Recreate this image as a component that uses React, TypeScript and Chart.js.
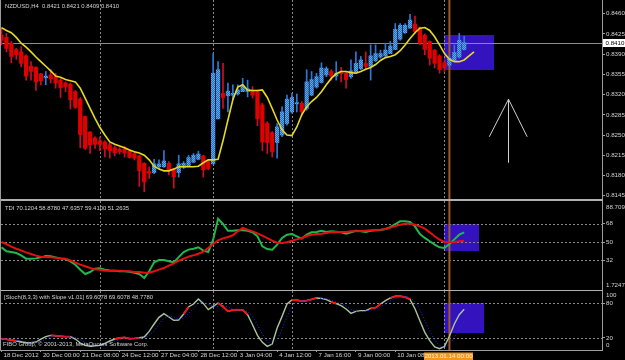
import { useEffect, useRef } from 'react';
import { Chart, registerables } from 'chart.js';

Chart.register(...registerables);

// ---------------- data ----------------
const opens = [
  0.8423, 0.8419, 0.8409, 0.8398, 0.8394, 0.8387, 0.8369, 0.8367, 0.8356, 0.8349,
  0.8354, 0.8351, 0.8345, 0.8340, 0.8338, 0.8325, 0.8312, 0.8282, 0.8255, 0.8245,
  0.8240, 0.8238, 0.8233, 0.8228, 0.8225, 0.8226, 0.8222, 0.8218, 0.8214, 0.8201,
  0.8187, 0.8185, 0.8195, 0.8195, 0.8201, 0.8191, 0.8185, 0.8194, 0.8196, 0.8203,
  0.8208, 0.8214, 0.8204, 0.8200, 0.8278, 0.8322, 0.8318, 0.8319, 0.8321, 0.8325,
  0.8325, 0.8328, 0.8325, 0.8302, 0.8270, 0.8254, 0.8237, 0.8250, 0.8270, 0.8290,
  0.8304, 0.8305, 0.8296, 0.8319, 0.8333, 0.8341, 0.8354, 0.8360, 0.8352, 0.8360,
  0.8357, 0.8351, 0.8358, 0.8365, 0.8374, 0.8369, 0.8379, 0.8385, 0.8387, 0.8391,
  0.8398, 0.8416, 0.8427, 0.8435, 0.8442, 0.8436, 0.8423, 0.8412, 0.8397, 0.8387,
  0.8375, 0.8371, 0.8379, 0.8385, 0.8398,
];
const highs = [
  0.8435, 0.8426, 0.8412, 0.8400, 0.8403, 0.8389, 0.8377, 0.8368, 0.8357, 0.8360,
  0.8363, 0.8357, 0.8348, 0.8342, 0.8340, 0.8327, 0.8315, 0.8283, 0.8256, 0.8247,
  0.8247, 0.8240, 0.8236, 0.8231, 0.8228, 0.8230, 0.8225, 0.8221, 0.8215, 0.8202,
  0.8195, 0.8208, 0.8207, 0.8223, 0.8204, 0.8192, 0.8215, 0.8204, 0.8215, 0.8218,
  0.8222, 0.8215, 0.8207, 0.8391, 0.8377, 0.8374, 0.8340, 0.8337, 0.8337, 0.8348,
  0.8345, 0.8334, 0.8328, 0.8305, 0.8273, 0.8256, 0.8270, 0.8299, 0.8319, 0.8322,
  0.8321, 0.8308, 0.8363, 0.8360, 0.8357, 0.8375, 0.8368, 0.8363, 0.8377, 0.8367,
  0.8360, 0.8380, 0.8394, 0.8386, 0.8394, 0.8406, 0.8406, 0.8397, 0.8409, 0.8412,
  0.8443, 0.8443, 0.8443, 0.8459, 0.8456, 0.8437, 0.8425, 0.8413, 0.8398, 0.8389,
  0.8380, 0.8386, 0.8406, 0.8426, 0.8421,
];
const lows = [
  0.8406, 0.8394, 0.8375, 0.8381, 0.8368, 0.8345, 0.8345, 0.8327, 0.8337, 0.8337,
  0.8340, 0.8331, 0.8315, 0.8325, 0.8295, 0.8296, 0.8228, 0.8225, 0.8218, 0.8227,
  0.8223, 0.8212, 0.8210, 0.8214, 0.8217, 0.8212, 0.8210, 0.8207, 0.8161, 0.8152,
  0.8175, 0.8183, 0.8192, 0.8194, 0.8181, 0.8158, 0.8177, 0.8192, 0.8195, 0.8202,
  0.8207, 0.8177, 0.8190, 0.8200, 0.8278, 0.8296, 0.8290, 0.8311, 0.8319, 0.8325,
  0.8316, 0.8314, 0.8266, 0.8223, 0.8218, 0.8212, 0.8210, 0.8247, 0.8267, 0.8288,
  0.8290, 0.8283, 0.8293, 0.8318, 0.8331, 0.8340, 0.8351, 0.8345, 0.8345, 0.8342,
  0.8331, 0.8348, 0.8357, 0.8363, 0.8363, 0.8345, 0.8377, 0.8383, 0.8386, 0.8391,
  0.8398, 0.8414, 0.8426, 0.8435, 0.8426, 0.8406, 0.8389, 0.8371, 0.8366, 0.8357,
  0.8360, 0.8369, 0.8377, 0.8383, 0.8397,
];
const closes = [
  0.8414, 0.8400, 0.8386, 0.8389, 0.8374, 0.8352, 0.8360, 0.8342, 0.8344, 0.8352,
  0.8347, 0.8340, 0.8332, 0.8334, 0.8311, 0.8298, 0.8251, 0.8227, 0.8233, 0.8234,
  0.8234, 0.8226, 0.8223, 0.8219, 0.8221, 0.8219, 0.8211, 0.8210, 0.8188, 0.8169,
  0.8184, 0.8200, 0.8200, 0.8205, 0.8190, 0.8178, 0.8200, 0.8201, 0.8211, 0.8215,
  0.8217, 0.8190, 0.8192, 0.8357, 0.8363, 0.8315, 0.8326, 0.8322, 0.8328, 0.8335,
  0.8330, 0.8319, 0.8278, 0.8238, 0.8237, 0.8221, 0.8264, 0.8290, 0.8312, 0.8315,
  0.8306, 0.8290, 0.8342, 0.8346, 0.8351, 0.8366, 0.8365, 0.8352, 0.8357, 0.8356,
  0.8346, 0.8361, 0.8374, 0.8380, 0.8369, 0.8387, 0.8391, 0.8391, 0.8397, 0.8404,
  0.8433, 0.8440, 0.8440, 0.8449, 0.8429, 0.8409, 0.8398, 0.8383, 0.8374, 0.8363,
  0.8366, 0.8383, 0.8393, 0.8414, 0.8410,
];
const maLine = [
  0.8436, 0.8431, 0.8427, 0.8419, 0.8409, 0.8402, 0.8394, 0.8385, 0.8377, 0.8369,
  0.8361, 0.8352, 0.8350, 0.8346, 0.8344, 0.8342, 0.8331, 0.8314, 0.8296, 0.8279,
  0.8263, 0.8250, 0.8238, 0.8234, 0.8231, 0.8228, 0.8224, 0.8221, 0.8219, 0.8215,
  0.8207, 0.8196, 0.8191, 0.8188, 0.8188, 0.8191, 0.8195, 0.8195, 0.8195, 0.8195,
  0.8196, 0.8202, 0.8207, 0.8207, 0.8208, 0.8240, 0.8276, 0.8311, 0.8333, 0.8337,
  0.8328, 0.8327, 0.8327, 0.8328, 0.8315, 0.8296, 0.8276, 0.8259, 0.8250, 0.8249,
  0.8264, 0.8285, 0.8299, 0.8308, 0.8315, 0.8325, 0.8337, 0.8348, 0.8356, 0.8360,
  0.8360, 0.8358, 0.8357, 0.8360, 0.8364, 0.8367, 0.8372, 0.8379, 0.8384, 0.8386,
  0.8389, 0.8396, 0.8406, 0.8417, 0.8427, 0.8435, 0.8436, 0.8431, 0.8420, 0.8406,
  0.8391, 0.8381, 0.8377, 0.8377, 0.8380, 0.8387, 0.8394,
];
const tdiPrice = [
  44.8, 40.8, 40.2, 39.2, 36.9, 33.6, 33.6, 33.9, 34.9, 36.2,
  35.9, 34.9, 33.9, 33.3, 31.0, 27.7, 22.8, 18.5, 20.5, 23.8,
  24.1, 22.8, 22.1, 21.8, 21.2, 21.2, 20.8, 19.8, 18.5, 14.6,
  21.2, 30.0, 32.3, 32.3, 31.0, 30.0, 35.2, 40.2, 42.5, 43.4,
  44.8, 41.5, 40.2, 52.3, 72.9, 67.7, 61.1, 61.1, 61.5, 61.5,
  61.1, 59.5, 55.6, 45.7, 43.1, 42.5, 47.4, 54.0, 57.2, 57.9,
  55.6, 53.3, 57.2, 59.5, 59.8, 61.1, 59.8, 60.5, 60.2, 59.5,
  58.2, 59.5, 61.1, 60.5, 59.8, 61.1, 61.5, 61.8, 62.8, 64.7,
  67.7, 70.3, 70.3, 69.7, 65.4, 57.9, 54.0, 50.7, 47.4, 44.8,
  44.1, 48.0, 52.6, 57.2, 59.4,
];
const tdiSignal = [
  50.0, 48.0, 45.4, 43.4, 41.8, 39.8, 38.2, 36.6, 35.6, 35.2,
  34.9, 34.6, 33.9, 33.6, 32.0, 29.7, 27.7, 26.1, 24.4, 23.1,
  22.8, 21.8, 21.8, 21.8, 21.8, 21.5, 21.2, 20.5, 20.5, 19.8,
  19.8, 21.2, 22.8, 24.4, 26.7, 29.0, 31.6, 33.6, 35.6, 36.9,
  38.5, 40.5, 44.1, 48.0, 51.6, 53.6, 54.9, 56.6, 60.5, 63.8,
  62.1, 60.5, 58.5, 56.2, 53.9, 51.3, 49.3, 49.0, 49.7, 51.3,
  52.6, 53.9, 55.9, 57.2, 57.9, 58.2, 58.9, 59.5, 59.8, 59.8,
  59.8, 60.5, 60.5, 60.8, 61.1, 61.5, 61.8, 62.1, 62.8, 64.1,
  65.7, 67.0, 68.0, 68.0, 67.0, 65.4, 63.1, 59.5, 55.6, 52.3,
  50.0, 49.7, 50.0, 50.7, 51.3,
];
const stochMain = [
  18.8, 17.7, 16.5, 14.8, 13.6, 11.9, 11.9, 13.1, 18.2, 22.3,
  24.6, 24.0, 22.9, 22.3, 22.3, 18.2, 11.3, 7.3, 5.5, 6.7,
  7.3, 10.7, 14.8, 18.2, 20.0, 21.1, 18.8, 19.4, 20.5, 21.7,
  31.5, 44.2, 55.7, 62.1, 56.3, 50.5, 51.1, 61.5, 73.6, 78.8,
  87.4, 79.9, 69.0, 74.8, 80.5, 74.2, 66.1, 68.4, 69.0, 68.4,
  60.3, 43.0, 24.6, 12.5, 5.5, 9.6, 37.3, 57.4, 78.8, 85.7,
  85.7, 83.4, 84.6, 86.9, 89.2, 88.6, 86.3, 82.3, 79.4, 75.9,
  70.1, 62.6, 66.1, 67.3, 67.3, 71.3, 72.4, 78.8, 84.6, 89.2,
  92.1, 92.1, 90.9, 86.9, 70.7, 49.9, 29.8, 15.3, 4.4, 1.5,
  5.5, 22.9, 44.2, 60.3, 69.6,
];
const stochSignal = [
  19.0, 18.5, 17.7, 16.3, 15.0, 13.4, 12.5, 12.3, 14.4, 17.9,
  21.7, 23.6, 23.8, 23.1, 22.5, 20.9, 17.3, 12.3, 8.0, 6.5,
  6.5, 8.2, 10.9, 14.6, 17.7, 19.8, 20.0, 19.8, 19.6, 20.5,
  24.6, 32.5, 43.8, 54.0, 58.0, 56.3, 52.6, 54.4, 62.1, 71.3,
  79.9, 82.0, 78.8, 74.6, 74.8, 76.5, 73.6, 69.6, 67.8, 68.6,
  65.9, 57.2, 42.6, 26.7, 14.2, 9.2, 17.5, 34.8, 57.8, 74.0,
  83.4, 84.9, 84.6, 85.0, 86.9, 88.2, 88.0, 85.7, 82.7, 79.2,
  75.1, 69.5, 66.3, 65.3, 66.9, 68.6, 70.3, 74.2, 78.6, 84.2,
  88.6, 91.1, 91.7, 90.0, 82.8, 69.2, 50.1, 31.7, 16.5, 7.1,
  3.8, 9.9, 20.0, 36.0, 48.8,
];
// bar ranges where the stochastic line is drawn red
const stochRedSegments = [[0, 3], [10, 14], [23, 28], [37, 38], [44, 50], [59, 64], [67, 68], [75, 77], [79, 83]];

const priceTicks = [0.8145, 0.8180, 0.8215, 0.8250, 0.8285, 0.8320, 0.8355, 0.8390, 0.8425, 0.8460];
const tdiLevels = [32, 50, 68];
const stochLevels = [20, 80];
const timeTickBars = [0, 8, 16, 24, 32, 40, 48, 56, 64, 72, 80];
const timeTickLabels = [
  '18 Dec 2012', '20 Dec 00:00', '21 Dec 08:00', '24 Dec 12:00', '27 Dec 04:00', '28 Dec 12:00',
  '3 Jan 04:00', '4 Jan 12:00', '7 Jan 16:00', '9 Jan 00:00', '10 Jan 08:00',
];
const separatorBars = [20, 43, 59, 90];
const vlineBar = 91;
const vlineLabel = '2013.01.14 00:00';

const mainTitle = 'NZDUSD,H4  0.8421 0.8421 0.8409 0.8410';
const tdiTitle = 'TDI 70.1204 58.8780 47.6357 59.4100 51.2635';
const stochTitle = '[Stoch(8,3,3) with Slope v1.01] 69.6078 69.6078 48.7780';
const copyright = 'FIBO Group, © 2001-2013, MetaQuotes Software Corp.';
const tdiWindowMax = '88.709';
const tdiWindowMin = '1.7247';
const stochWindowMax = '100';
const stochWindowMin = '0';

// chart objects (time in bars, value in price / indicator units)
const mainRect = { t1: 90, t2: 100, p1: 0.8423, p2: 0.8363 };
const tdiRect = { t1: 90, t2: 97, p1: 68, p2: 41 };
const stochRect = { t1: 90, t2: 98, p1: 80, p2: 29 };
const arrowObj = { bar: 102.9, tip: 0.8312, tail: 0.8202, wingL: 99.1, wingR: 106.8, wingPrice: 0.8247 };

// ---------------- view / style ----------------
const FONT_FAMILY = '"Liberation Sans", Arial, sans-serif';
const AXIS_FONT = 6.2;
const TITLE_FONT = 5.9;
const TEXT = '#d4d4d4';
const FRAME = '#9c9c9c';
const DOTS = '#8a8a8a';
const RECT_FILL = '#3412bd';
const VLINE = '#a05a28';
const BEAR_BODY = '#e00000';
const BEAR_WICK = '#c8102a';
const BULL_WICK = '#2b7ad8';
const MA_COLOR = '#e6da24';

const X_MIN = -0.1016;
const X_MAX = 122.0;
const MAIN_MIN = 0.813929;
const MAIN_MAX = 0.848371;
const TDI_MIN = 2.81;
const TDI_MAX = 90.32;
const STO_MIN = -0.76;
const STO_MAX = 101.28;

Chart.defaults.font.family = FONT_FAMILY;
Chart.defaults.font.size = AXIS_FONT;
Chart.defaults.color = TEXT;

function rightAxis(min: number, max: number, ticks: number[], fmt: (v: number) => string) {
  return {
    type: 'linear',
    position: 'right',
    min,
    max,
    afterBuildTicks: (s: any) => {
      s.ticks = ticks.map((v) => ({ value: v }));
    },
    afterFit: (s: any) => {
      s.width = 23;
      s.paddingTop = 0;
      s.paddingBottom = 0;
      s.paddingLeft = 0;
      s.paddingRight = 0;
    },
    ticks: {
      autoSkip: false,
      padding: 1,
      color: TEXT,
      font: { size: AXIS_FONT, family: FONT_FAMILY },
      callback: (v: any) => fmt(Number(v)),
    },
    grid: { drawOnChartArea: false, drawTicks: true, tickLength: 3, color: FRAME },
    border: { display: true, color: FRAME, width: 1 },
  };
}

const hiddenX = { type: 'linear', display: false, min: X_MIN, max: X_MAX, offset: false };

function drawBackdrop(chart: any, rect: any, levels: number[], extra?: (ctx: any, xs: any, ys: any, a: any) => void) {
  const { ctx, chartArea: a } = chart;
  const xs = chart.scales.x;
  const ys = chart.scales.y;
  ctx.save();
  ctx.beginPath();
  ctx.rect(a.left, a.top, a.right - a.left, a.bottom - a.top);
  ctx.clip();
  const x1 = Math.round(xs.getPixelForValue(rect.t1));
  const x2 = Math.round(xs.getPixelForValue(rect.t2));
  const y1 = Math.round(ys.getPixelForValue(rect.p1));
  const y2 = Math.round(ys.getPixelForValue(rect.p2));
  ctx.fillStyle = RECT_FILL;
  ctx.fillRect(x1, y1, x2 - x1, y2 - y1);
  ctx.lineWidth = 1;
  ctx.strokeStyle = DOTS;
  ctx.setLineDash([2, 2]);
  levels.forEach((lv) => {
    const py = Math.round(ys.getPixelForValue(lv)) + 0.5;
    ctx.beginPath();
    ctx.moveTo(a.left, py);
    ctx.lineTo(a.right, py);
    ctx.stroke();
  });
  separatorBars.forEach((b) => {
    const px = Math.round(xs.getPixelForValue(b)) + 0.5;
    ctx.beginPath();
    ctx.moveTo(px, a.top);
    ctx.lineTo(px, a.bottom);
    ctx.stroke();
  });
  ctx.setLineDash([]);
  if (extra) extra(ctx, xs, ys, a);
  const vx = xs.getPixelForValue(vlineBar);
  ctx.strokeStyle = VLINE;
  ctx.lineWidth = 2;
  ctx.beginPath();
  ctx.moveTo(vx, a.top);
  ctx.lineTo(vx, a.bottom);
  ctx.stroke();
  ctx.restore();
}

function text(ctx: any, s: string, x: number, y: number, size: number, color: string, align = 'left') {
  ctx.save();
  ctx.font = `${size}px ${FONT_FAMILY}`;
  ctx.fillStyle = color;
  ctx.textAlign = align;
  ctx.textBaseline = 'middle';
  ctx.fillText(s, x, y);
  ctx.restore();
}

const baseOptions = {
  animation: false,
  responsive: false,
  devicePixelRatio: 1,
  events: [],
  plugins: { legend: { display: false }, tooltip: { enabled: false }, title: { display: false } },
};

export default function App() {
  const mainRef = useRef<HTMLCanvasElement>(null);
  const tdiRef = useRef<HTMLCanvasElement>(null);
  const stoRef = useRef<HTMLCanvasElement>(null);

  useEffect(() => {
    const charts: Chart[] = [];
    const idx = opens.map((_, i) => i);
    const bull = idx.map((i) => closes[i] >= opens[i]);

    // checkered bull body fill
    const pc = document.createElement('canvas');
    pc.width = 2;
    pc.height = 2;
    const pctx = pc.getContext('2d') as CanvasRenderingContext2D;
    pctx.fillStyle = '#2a6cbc';
    pctx.fillRect(0, 0, 2, 2);
    pctx.fillStyle = '#5eaaf2';
    pctx.fillRect(0, 0, 1, 1);
    pctx.fillRect(1, 1, 1, 1);
    const mainCtx = (mainRef.current as HTMLCanvasElement).getContext('2d') as CanvasRenderingContext2D;
    const bullFill = mainCtx.createPattern(pc, 'repeat') as any;

    // ---------- main price panel ----------
    charts.push(
      new Chart(mainRef.current as HTMLCanvasElement, {
        type: 'bar',
        data: {
          datasets: [
            {
              type: 'line',
              data: maLine.map((v, i) => ({ x: i, y: v })),
              borderColor: MA_COLOR,
              borderWidth: 1.6,
              pointRadius: 0,
              tension: 0,
              order: 0,
            } as any,
            {
              type: 'bar',
              data: idx.map((i) => ({ x: i, y: [opens[i], closes[i]] })),
              backgroundColor: bull.map((b) => (b ? bullFill : BEAR_BODY)),
              barThickness: 3.6,
              grouped: false,
              minBarLength: 1,
              order: 1,
            } as any,
            {
              type: 'bar',
              data: idx.map((i) => ({ x: i, y: [lows[i], highs[i]] })),
              backgroundColor: bull.map((b) => (b ? BULL_WICK : BEAR_WICK)),
              barThickness: 1,
              grouped: false,
              order: 2,
            } as any,
          ],
        },
        options: {
          ...baseOptions,
          layout: { padding: { left: 1, right: 0, top: 0, bottom: 1 } },
          scales: {
            x: hiddenX,
            y: rightAxis(MAIN_MIN, MAIN_MAX, priceTicks, (v) => v.toFixed(4)),
          },
        } as any,
        plugins: [
          {
            id: 'mainDecor',
            beforeDatasetsDraw(chart: any) {
              drawBackdrop(chart, mainRect, [], (ctx, xs, ys, a) => {
                const py = Math.round(ys.getPixelForValue(closes[closes.length - 1])) + 0.5;
                ctx.strokeStyle = '#8c8c8c';
                ctx.lineWidth = 1;
                ctx.beginPath();
                ctx.moveTo(a.left, py);
                ctx.lineTo(a.right, py);
                ctx.stroke();
              });
            },
            afterDatasetsDraw(chart: any) {
              const { ctx } = chart;
              const xs = chart.scales.x;
              const ys = chart.scales.y;
              const ax = Math.round(xs.getPixelForValue(arrowObj.bar)) + 0.5;
              const yt = ys.getPixelForValue(arrowObj.tip);
              const yb = ys.getPixelForValue(arrowObj.tail);
              const yw = ys.getPixelForValue(arrowObj.wingPrice);
              ctx.save();
              ctx.strokeStyle = '#d0d0d0';
              ctx.lineWidth = 1;
              ctx.beginPath();
              ctx.moveTo(ax, yb);
              ctx.lineTo(ax, yt);
              ctx.moveTo(xs.getPixelForValue(arrowObj.wingL), yw);
              ctx.lineTo(ax, yt);
              ctx.lineTo(xs.getPixelForValue(arrowObj.wingR), yw);
              ctx.stroke();
              ctx.restore();
            },
            afterDraw(chart: any) {
              const { ctx, chartArea: a } = chart;
              const ys = chart.scales.y;
              text(ctx, mainTitle, 5, 6, TITLE_FONT, TEXT);
              const last = closes[closes.length - 1];
              const py = Math.round(ys.getPixelForValue(last));
              ctx.save();
              ctx.fillStyle = '#ffffff';
              ctx.fillRect(a.right + 1, py - 4, 24, 8);
              ctx.restore();
              text(ctx, last.toFixed(4), a.right + 3.5, py, AXIS_FONT, '#000000');
            },
          },
        ],
      })
    );

    // ---------- TDI panel ----------
    charts.push(
      new Chart(tdiRef.current as HTMLCanvasElement, {
        type: 'line',
        data: {
          datasets: [
            {
              data: tdiSignal.map((v, i) => ({ x: i, y: v })),
              borderColor: '#e41010',
              borderWidth: 2,
              pointRadius: 0,
              tension: 0,
              order: 0,
            },
            {
              data: tdiPrice.map((v, i) => ({ x: i, y: v })),
              borderColor: '#20b84a',
              borderWidth: 2,
              pointRadius: 0,
              tension: 0,
              order: 1,
            },
          ],
        },
        options: {
          ...baseOptions,
          layout: { padding: { left: 1, right: 0, top: 0, bottom: 0 } },
          scales: {
            x: hiddenX,
            y: rightAxis(TDI_MIN, TDI_MAX, tdiLevels, (v) => String(v)),
          },
        } as any,
        plugins: [
          {
            id: 'tdiDecor',
            beforeDatasetsDraw(chart: any) {
              drawBackdrop(chart, tdiRect, tdiLevels);
            },
            afterDraw(chart: any) {
              const { ctx, chartArea: a } = chart;
              text(ctx, tdiTitle, 5, 7.3, TITLE_FONT, TEXT);
              text(ctx, tdiWindowMax, a.right + 4, a.top + 6.3, AXIS_FONT, TEXT);
              text(ctx, tdiWindowMin, a.right + 4, a.bottom - 4.3, AXIS_FONT, TEXT);
            },
          },
        ],
      })
    );

    // ---------- Stochastic panel + time axis ----------
    const inRed = (i: number) => stochRedSegments.some(([s, e]) => i >= s && i <= e);
    charts.push(
      new Chart(stoRef.current as HTMLCanvasElement, {
        type: 'line',
        data: {
          datasets: [
            {
              data: stochSignal.map((v, i) => ({ x: i, y: v })),
              borderColor: '#2a2aff',
              borderWidth: 1,
              borderDash: [1, 2],
              pointRadius: 0,
              tension: 0,
              order: 0,
            },
            {
              data: stochMain.map((v, i) => ({ x: i, y: inRed(i) ? v : null })),
              borderColor: '#ff1010',
              borderWidth: 1.8,
              pointRadius: 0,
              tension: 0,
              spanGaps: false,
              order: 1,
            },
            {
              data: stochMain.map((v, i) => ({ x: i, y: v })),
              borderColor: '#a8c6a0',
              borderWidth: 1.4,
              pointRadius: 0,
              tension: 0,
              order: 2,
            },
          ],
        },
        options: {
          ...baseOptions,
          layout: { padding: { left: 1, right: 0, top: 0, bottom: 0 } },
          scales: {
            x: {
              type: 'linear',
              position: 'bottom',
              min: X_MIN,
              max: X_MAX,
              offset: false,
              afterBuildTicks: (s: any) => {
                s.ticks = timeTickBars.map((v) => ({ value: v }));
              },
              afterFit: (s: any) => {
                s.height = 10;
                s.paddingLeft = 0;
                s.paddingRight = 0;
                s.paddingTop = 0;
                s.paddingBottom = 0;
              },
              ticks: {
                autoSkip: false,
                maxRotation: 0,
                minRotation: 0,
                align: 'start',
                labelOffset: 2,
                padding: 0,
                color: TEXT,
                font: { size: AXIS_FONT, family: FONT_FAMILY },
                callback: (_v: any, i: number) => timeTickLabels[i],
              },
              grid: { drawOnChartArea: false, drawTicks: true, tickLength: 2, color: FRAME },
              border: { display: true, color: FRAME, width: 1 },
            },
            y: rightAxis(STO_MIN, STO_MAX, stochLevels, (v) => String(v)),
          },
        } as any,
        plugins: [
          {
            id: 'stoDecor',
            beforeDatasetsDraw(chart: any) {
              drawBackdrop(chart, stochRect, stochLevels);
            },
            afterDraw(chart: any) {
              const { ctx, chartArea: a } = chart;
              const xs = chart.scales.x;
              text(ctx, stochTitle, 4, 6.5, TITLE_FONT, TEXT);
              text(ctx, copyright, 3, a.bottom - 6, TITLE_FONT, TEXT);
              text(ctx, stochWindowMax, a.right + 4, a.top + 4, AXIS_FONT, TEXT);
              text(ctx, stochWindowMin, a.right + 4, a.bottom - 4.7, AXIS_FONT, TEXT);
              const vx = xs.getPixelForValue(vlineBar);
              ctx.save();
              ctx.fillStyle = '#f4961e';
              ctx.fillRect(Math.round(vx) - 25, a.bottom + 2.5, 49, 7.5);
              ctx.restore();
              text(ctx, vlineLabel, Math.round(vx) - 0.5, a.bottom + 6.3, AXIS_FONT, '#fff3d6', 'center');
            },
          },
        ],
      })
    );

    return () => charts.forEach((c) => c.destroy());
  }, []);

  return (
    <div style={{ position: 'fixed', left: 0, top: 0, width: 625, height: 360, background: '#000', overflow: 'hidden' }}>
      <canvas ref={mainRef} width={625} height={200} style={{ position: 'absolute', left: 0, top: 0, width: 625, height: 200 }} />
      <canvas ref={tdiRef} width={625} height={89} style={{ position: 'absolute', left: 0, top: 201, width: 625, height: 89 }} />
      <canvas ref={stoRef} width={625} height={69} style={{ position: 'absolute', left: 0, top: 291, width: 625, height: 69 }} />
      <div style={{ position: 'absolute', left: 0, top: 199, width: 603, height: 2, background: '#b0b0b0' }} />
      <div style={{ position: 'absolute', left: 0, top: 289.5, width: 603, height: 1.5, background: '#b0b0b0' }} />
      <div style={{ position: 'absolute', left: 0, top: 0, width: 1, height: 351, background: FRAME }} />
    </div>
  );
}
